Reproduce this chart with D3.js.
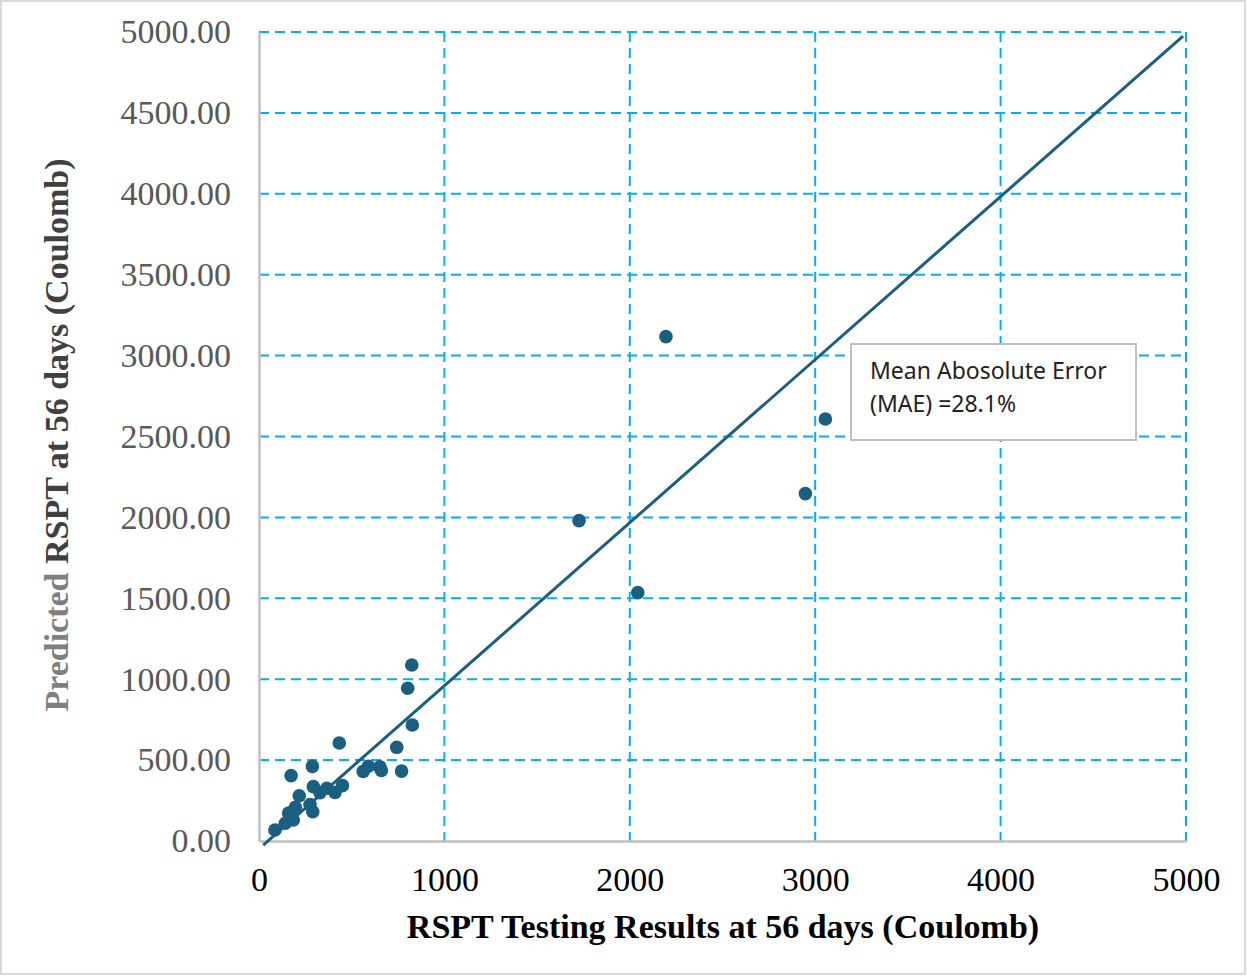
<!DOCTYPE html>
<html>
<head>
<meta charset="utf-8">
<script src="https://cdn.jsdelivr.net/npm/d3@7"></script>
<style>
  html, body { margin: 0; padding: 0; background: #fff; }
  svg { display: block; }
</style>
</head>
<body>
<svg id="chart" width="1247" height="976"></svg>
<script>
// Rapid chloride permeability (RSPT) at 56 days: measured vs predicted charge passed
const measuredRSPT = [86, 142, 160, 185, 196, 173, 217, 275, 290, 288, 293, 329, 366, 410, 450, 433,
  562, 590, 652, 660, 743, 769, 802, 824, 827, 1726, 2043, 2195, 2947, 3055];
const predictedRSPT = [68, 110, 172, 130, 208, 404, 280, 225, 181, 461, 336, 298, 326, 300, 342, 606,
  430, 462, 458, 436, 579, 432, 944, 1088, 717, 1980, 1535, 3117, 2147, 2608];

// Line of equality drawn across the plot
const equalityX = [23, 4984];
const equalityY = [-25, 4975];

const xTicks = [0, 1000, 2000, 3000, 4000, 5000];
const yTicks = [0, 500, 1000, 1500, 2000, 2500, 3000, 3500, 4000, 4500, 5000];

const maeLines = ["Mean Abosolute Error", "(MAE) =28.1%"];

const svg = d3.select("#chart");
const W = 1247, H = 976;
const margin = { left: 259, right: W - 1186, top: 32, bottom: H - 841 };

const x = d3.scaleLinear().domain([0, 5000]).range([margin.left, W - margin.right]);
const y = d3.scaleLinear().domain([0, 5000]).range([H - margin.bottom, margin.top]);

const markColor = "#1a5f80";
const gridColor = "#00b0f0";
const serif = "'Liberation Serif', 'Times New Roman', serif";

// outer frame
svg.append("rect")
  .attr("x", 1).attr("y", 1).attr("width", W - 3).attr("height", H - 3)
  .attr("fill", "#fff").attr("stroke", "#d9d9d9").attr("stroke-width", 2);

// dashed grid
const grid = svg.append("g");
grid.selectAll("line.gx").data(xTicks.filter(d => d > 0)).join("line")
  .attr("x1", d => x(d)).attr("x2", d => x(d))
  .attr("y1", y(5000)).attr("y2", y(0))
  .attr("stroke", gridColor).attr("stroke-width", 2).attr("stroke-dasharray", "10,6");
grid.selectAll("line.gy").data(yTicks.filter(d => d > 0)).join("line")
  .attr("y1", d => y(d)).attr("y2", d => y(d))
  .attr("x1", x(0)).attr("x2", x(5000))
  .attr("stroke", gridColor).attr("stroke-width", 2).attr("stroke-dasharray", "10,6");

// axes
const yAxis = d3.axisLeft(y).tickValues(yTicks).tickSize(0).tickPadding(28)
  .tickFormat(d => d3.format(".2f")(d));
const xAxis = d3.axisBottom(x).tickValues(xTicks).tickSize(0).tickPadding(26)
  .tickFormat(d3.format("d"));

const gy = svg.append("g").attr("transform", `translate(${x(0)},0)`).call(yAxis);
gy.select(".domain").attr("stroke", "#bfbfbf").attr("stroke-width", 2.5);
gy.selectAll("text")
  .attr("font-family", serif).attr("font-size", 34).attr("fill", "#595959");

const gx = svg.append("g").attr("transform", `translate(0,${y(0)})`).call(xAxis);
gx.select(".domain").attr("stroke", "#bfbfbf").attr("stroke-width", 2.5);
gx.selectAll("text")
  .attr("font-family", serif).attr("font-size", 34).attr("fill", "#000");

// equality line
svg.append("line")
  .attr("x1", x(equalityX[0])).attr("y1", y(equalityY[0]))
  .attr("x2", x(equalityX[1])).attr("y2", y(equalityY[1]))
  .attr("stroke", markColor).attr("stroke-width", 3);

// data points
svg.append("g").selectAll("circle")
  .data(measuredRSPT.map((v, i) => [v, predictedRSPT[i]]))
  .join("circle")
  .attr("cx", d => x(d[0])).attr("cy", d => y(d[1]))
  .attr("r", 6.8).attr("fill", markColor);

// MAE annotation box
const box = svg.append("g");
box.append("rect")
  .attr("x", 851).attr("y", 344).attr("width", 285).attr("height", 96)
  .attr("fill", "#fff").attr("stroke", "#bfbfbf").attr("stroke-width", 2);
box.selectAll("text").data(maeLines).join("text")
  .attr("x", 870).attr("y", (d, i) => 379 + i * 33)
  .attr("font-family", "'Noto Sans', 'Open Sans', sans-serif")
  .attr("font-size", 23).attr("fill", "#222")
  .text(d => d);

// axis titles
svg.append("text")
  .attr("x", 723).attr("y", 938)
  .attr("text-anchor", "middle")
  .attr("font-family", serif)
  .attr("font-weight", "bold").attr("font-size", 34).attr("fill", "#000")
  .text("RSPT Testing Results at 56 days (Coulomb)");

const yTitle = svg.append("text")
  .attr("transform", "translate(68,435) rotate(-90)")
  .attr("text-anchor", "middle")
  .attr("font-family", serif)
  .attr("font-weight", "bold").attr("font-size", 34);
yTitle.append("tspan").attr("fill", "#7f7f7f").text("Predicted ");
yTitle.append("tspan").attr("fill", "#404040").text("RSPT at 56 days (Coulomb)");
</script>
</body>
</html>
